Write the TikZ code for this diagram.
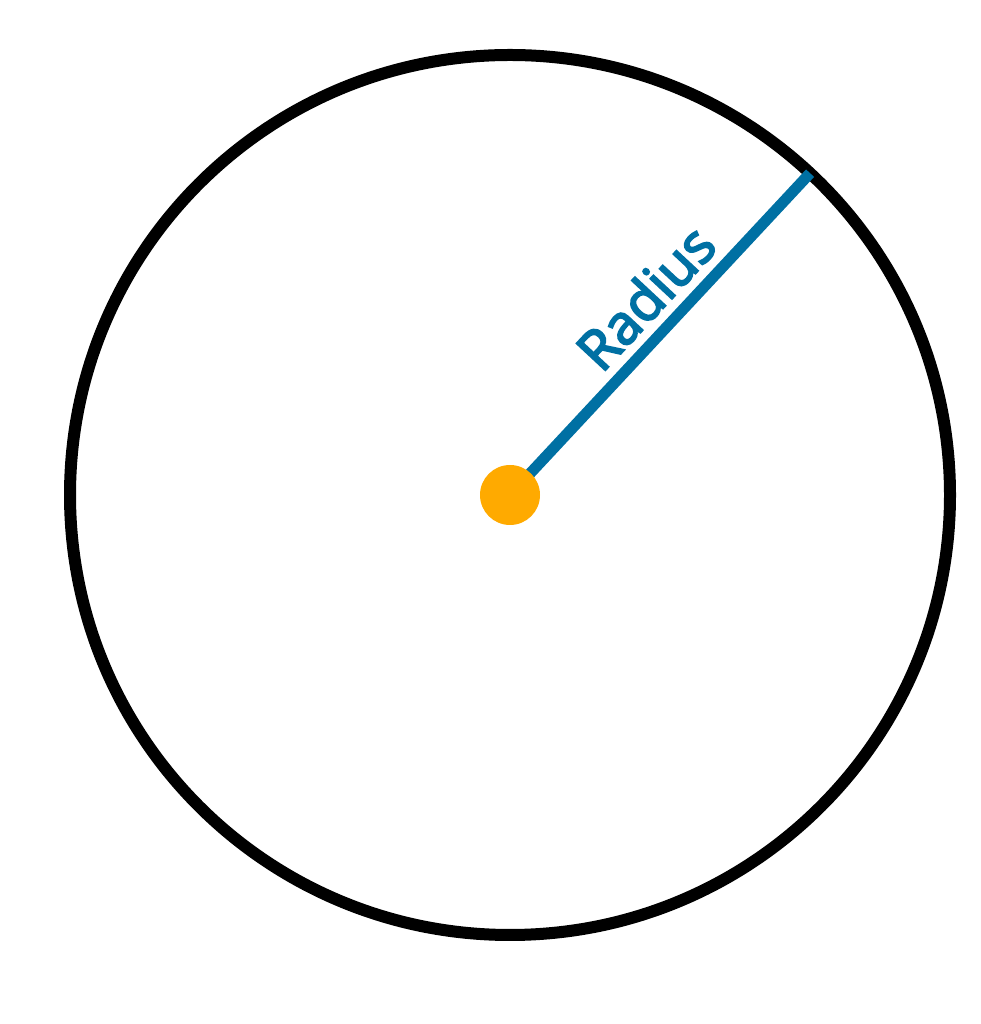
\documentclass[tikz,border=0pt]{standalone}
\usepackage{fontspec}
\setmainfont{Open Sans}
\newfontfamily\lblfont[FakeBold=3.5]{Open Sans}
\usetikzlibrary{calc}
\definecolor{radblue}{HTML}{0070A3}
\definecolor{dotorange}{HTML}{FFAA00}
\tikzset{
  rim/.style={draw=black, line width=12pt},
  radline/.style={draw=radblue, line width=11pt},
  dot/.style={circle, fill=dotorange, minimum size=60pt, inner sep=0pt},
  lbl/.style={text=radblue, font=\lblfont\fontsize{55}{60}\selectfont, inner sep=0pt, rotate=47}
}
\begin{document}
\begin{tikzpicture}[x=1pt,y=1pt]
\useasboundingbox (0,0) rectangle (980,1024);
\coordinate (c) at (510,529);
\draw[rim] (c) circle (440);
\coordinate (e) at ($(c)+(47:440)$);
\draw[radline] (c) -- (e);
\node[dot] (o) at (c) {};
\node[lbl] (t) at ($(c)+(47:237)+(137:36)$) {Radius};
\end{tikzpicture}
\end{document}
